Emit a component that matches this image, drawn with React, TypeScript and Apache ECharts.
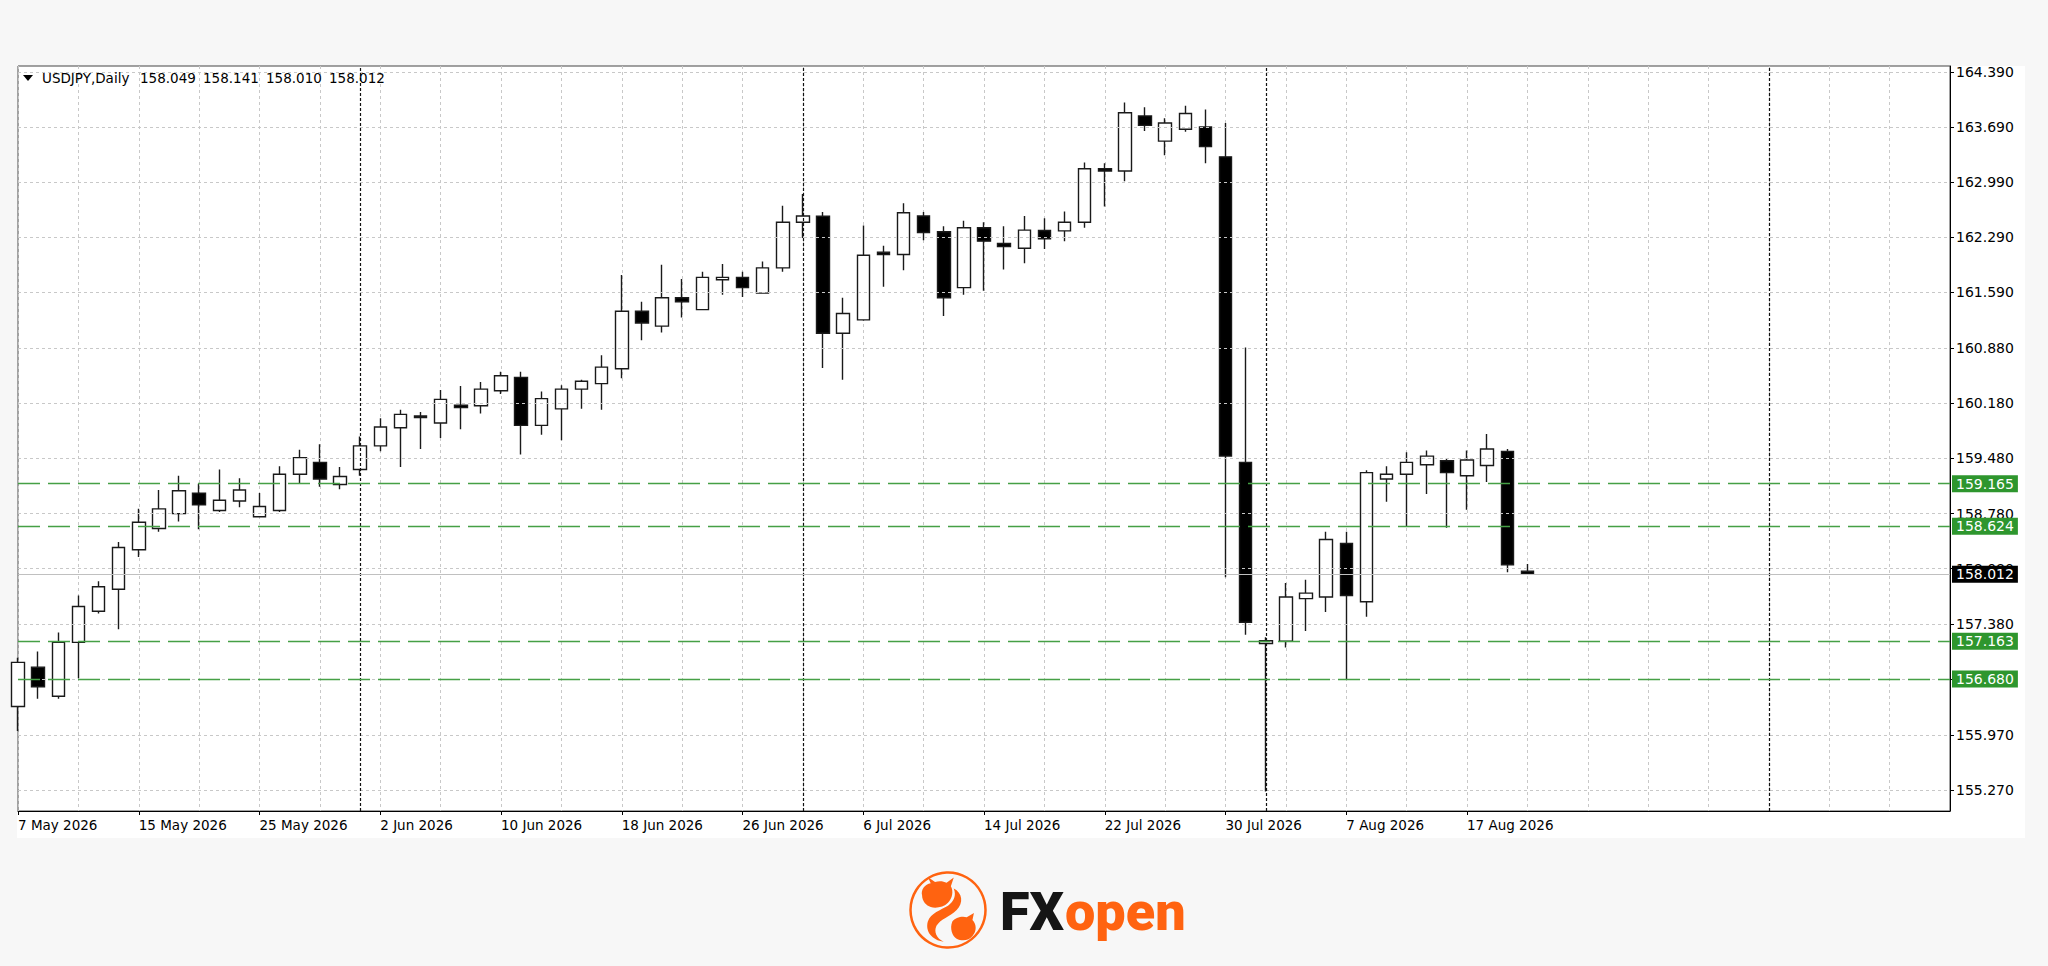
import React, { useEffect, useRef } from 'react';
import * as echarts from 'echarts';

const FONT = "'DejaVu Sans', Verdana, sans-serif";

// ---- data ----
const dates = [
  '7 May 2026', '8 May 2026', '11 May 2026', '12 May 2026', '13 May 2026', '14 May 2026', '15 May 2026',
  '18 May 2026', '19 May 2026', '20 May 2026', '21 May 2026', '22 May 2026', '25 May 2026', '26 May 2026',
  '27 May 2026', '28 May 2026', '29 May 2026',
  '1 Jun 2026', '2 Jun 2026', '3 Jun 2026', '4 Jun 2026', '5 Jun 2026', '8 Jun 2026', '9 Jun 2026',
  '10 Jun 2026', '11 Jun 2026', '12 Jun 2026', '15 Jun 2026', '16 Jun 2026', '17 Jun 2026', '18 Jun 2026',
  '19 Jun 2026', '22 Jun 2026', '23 Jun 2026', '24 Jun 2026', '25 Jun 2026', '26 Jun 2026', '29 Jun 2026',
  '30 Jun 2026',
  '1 Jul 2026', '2 Jul 2026', '3 Jul 2026', '6 Jul 2026', '7 Jul 2026', '8 Jul 2026', '9 Jul 2026',
  '10 Jul 2026', '13 Jul 2026', '14 Jul 2026', '15 Jul 2026', '16 Jul 2026', '17 Jul 2026', '20 Jul 2026',
  '21 Jul 2026', '22 Jul 2026', '23 Jul 2026', '24 Jul 2026', '27 Jul 2026', '28 Jul 2026', '29 Jul 2026',
  '30 Jul 2026', '31 Jul 2026',
  '3 Aug 2026', '4 Aug 2026', '5 Aug 2026', '6 Aug 2026', '7 Aug 2026', '10 Aug 2026', '11 Aug 2026',
  '12 Aug 2026', '13 Aug 2026', '14 Aug 2026', '17 Aug 2026', '18 Aug 2026', '19 Aug 2026', '20 Aug 2026',
];

const opens = [
  156.33, 156.83, 156.46, 157.145, 157.54, 157.82, 158.32, 158.59, 158.78, 159.04,
  158.82, 158.94, 158.74, 158.82, 159.28, 159.43, 159.15, 159.34, 159.64, 159.87,
  160.02, 159.93, 160.155, 160.15, 160.34, 160.51, 159.90, 160.11, 160.36, 160.43,
  160.62, 161.35, 161.16, 161.52, 161.37, 161.75, 161.78, 161.58, 161.90, 162.48,
  162.555, 161.07, 161.24, 162.10, 162.07, 162.56, 162.36, 161.65, 162.41, 162.21,
  162.15, 162.375, 162.37, 162.48, 163.16, 163.13, 163.83, 163.51, 163.66, 163.69,
  163.31, 159.43, 157.13, 157.16, 157.70, 157.72, 158.40, 157.66, 159.22, 159.28,
  159.40, 159.45, 159.26, 159.39, 159.57, 158.049,
];
const closes = [
  156.89, 156.58, 157.145, 157.60, 157.85, 158.35, 158.67, 158.84, 159.07, 158.89,
  158.95, 159.08, 158.87, 159.28, 159.49, 159.22, 159.25, 159.64, 159.88, 160.04,
  160.00, 160.23, 160.125, 160.36, 160.53, 159.90, 160.24, 160.36, 160.46, 160.64,
  161.35, 161.20, 161.52, 161.47, 161.78, 161.78, 161.65, 161.90, 162.48, 162.56,
  161.07, 161.32, 162.06, 162.07, 162.60, 162.35, 161.52, 162.41, 162.24, 162.17,
  162.38, 162.27, 162.48, 163.16, 163.13, 163.87, 163.71, 163.74, 163.86, 163.44,
  159.51, 157.40, 157.165, 157.72, 157.77, 158.45, 157.74, 159.30, 159.28, 159.43,
  159.51, 159.30, 159.46, 159.60, 158.13, 158.012,
];
const lows = [
  156.02, 156.43, 156.43, 156.69, 157.51, 157.31, 158.23, 158.55, 158.68, 158.58,
  158.80, 158.86, 158.73, 158.80, 159.16, 159.12, 159.09, 159.26, 159.57, 159.37,
  159.60, 159.74, 159.85, 160.05, 160.30, 159.53, 159.78, 159.71, 160.11, 160.10,
  160.50, 160.98, 161.08, 161.27, 161.37, 161.56, 161.53, 161.58, 161.85, 162.28,
  160.63, 160.48, 161.23, 161.66, 161.87, 162.25, 161.29, 161.56, 161.61, 161.88,
  161.96, 162.14, 162.24, 162.41, 162.68, 163.00, 163.64, 163.33, 163.63, 163.23,
  157.97, 157.24, 155.25, 157.08, 157.29, 157.53, 156.68, 157.47, 158.93, 158.62,
  159.03, 158.60, 158.83, 159.18, 158.035, 158.010,
];
const highs = [
  156.95, 157.03, 157.27, 157.74, 157.92, 158.42, 158.84, 159.08, 159.26, 159.16,
  159.34, 159.23, 159.04, 159.38, 159.59, 159.66, 159.37, 159.76, 159.99, 160.10,
  160.07, 160.35, 160.40, 160.45, 160.58, 160.58, 160.33, 160.41, 160.48, 160.79,
  161.81, 161.47, 161.94, 161.76, 161.85, 161.95, 161.85, 161.98, 162.69, 162.84,
  162.61, 161.52, 162.44, 162.18, 162.72, 162.61, 162.43, 162.50, 162.48, 162.43,
  162.56, 162.53, 162.615, 163.24, 163.23, 164.00, 163.94, 163.80, 163.96, 163.91,
  163.74, 160.89, 157.21, 157.90, 157.94, 158.55, 158.55, 159.33, 159.38, 159.56,
  159.58, 159.48, 159.58, 159.79, 159.60, 158.141,
];

const yTickLabels = [
  '164.390', '163.690', '162.990', '162.290', '161.590', '160.880', '160.180',
  '159.480', '158.780', '158.080', '157.380', '156.670', '155.970', '155.270',
];
const levelValues = [159.165, 158.624, 157.163, 156.68];
const currentPrice = 158.012;
const separatorIndex = [17, 39, 62, 87];
const futureSlots = 21;
const symbolTitle = 'USDJPY,Daily';

// ---- logo shape ----
const BULL_PATH =
  'M14 30 C12 22 18 14 26 13 L22 4 L32 11 C38 9 44 10 48 12 L58 5 L54 17 C58 24 56 34 50 40 C44 46 34 48 26 46 C20 44 14 38 14 30 Z ' +
  'M58 20 C70 26 72 40 62 50 C52 60 40 62 34 72 C30 80 34 90 44 94 C28 92 18 80 22 66 C26 54 40 50 50 44 C58 38 62 30 58 20 Z ' +
  'M56 66 C60 60 70 58 76 60 L86 54 L84 64 C90 70 90 80 84 86 C80 92 70 94 62 90 C56 86 52 76 56 66 Z';
echarts.graphic.registerShape('fxBulls', echarts.graphic.extendPath(BULL_PATH, {}));

export default function App() {
  const ref = useRef<HTMLDivElement>(null);

  useEffect(() => {
    if (!ref.current) return;
    const chart = echarts.init(ref.current, undefined, { renderer: 'svg' });

    const cats = [...dates];
    for (let k = 0; k < futureSlots; k++) cats.push('F' + (dates.length + k));
    const candles = opens.map((o, i) => [o, closes[i], lows[i], highs[i]]);
    const last = dates.length - 1;
    const ohlc = [opens[last], highs[last], lows[last], closes[last]].map((v) => v.toFixed(3));
    const showLabel = (i: number) => i % 6 === 0 && i < dates.length;

    const option: any = {
      animation: false,
      backgroundColor: '#f7f7f7',
      grid: {
        left: 18, top: 66, width: 1932, height: 745,
        show: true, borderColor: '#444', borderWidth: 1, backgroundColor: 'transparent',
      },
      xAxis: {
        type: 'category',
        data: cats,
        boundaryGap: false,
        axisLine: { show: true, lineStyle: { color: '#000', width: 1 } },
        axisTick: { show: true, interval: showLabel, length: 4, lineStyle: { color: '#000' } },
        axisLabel: {
          interval: showLabel, align: 'left', color: '#000', fontFamily: FONT, fontSize: 13.5, margin: 7,
          formatter: (v: string) => (v.charAt(0) === 'F' ? '' : v),
        },
        splitLine: { show: true, interval: (i: number) => i % 3 === 0, lineStyle: { color: '#c8c8c8', type: [3, 3], width: 1 } },
      },
      yAxis: {
        type: 'value',
        position: 'right',
        min: 155.003,
        max: 164.464,
        scale: true,
        axisLine: { show: true, lineStyle: { color: '#000', width: 1 } },
        axisTick: { show: true, customValues: yTickLabels.map(Number), length: 4, lineStyle: { color: '#000' } },
        axisLabel: { show: false },
        splitLine: { show: false },
      },
      series: [
        {
          type: 'line', z: 1, data: closes, symbol: 'none', silent: true,
          lineStyle: { opacity: 0 },
          markLine: {
            silent: true, symbol: ['none', 'none'], animation: false,
            lineStyle: { color: '#c8c8c8', type: [3, 3], width: 1 },
            label: { show: true, position: 'end', color: '#000', fontFamily: FONT, fontSize: 14, distance: 6 },
            data: yTickLabels.map((t) => ({ yAxis: Number(t), label: { formatter: t } })),
          },
        },
        {
          type: 'candlestick', z: 2, data: candles, barWidth: 13, clip: true,
          itemStyle: {
            color: '#ffffff', color0: '#000000', borderColor: '#1a1a1a', borderColor0: '#1a1a1a',
            borderColorDoji: '#1a1a1a', borderWidth: 1.4,
          },
        },
        {
          type: 'line', z: 3, data: closes, symbol: 'none', silent: true,
          lineStyle: { opacity: 0 },
          markLine: {
            silent: true, symbol: ['none', 'none'], animation: false,
            data: [
              ...separatorIndex.map((i) => ({
                xAxis: cats[i], label: { show: false },
                lineStyle: { color: '#111', type: [3, 2], width: 1.2 },
              })),
              { yAxis: currentPrice,
                lineStyle: { color: '#c0c0c0', type: 'solid', width: 1.2 },
                label: { show: true, position: 'end', formatter: currentPrice.toFixed(3), color: '#fff',
                  backgroundColor: '#000', padding: [2, 4, 1, 4], fontFamily: FONT, fontSize: 14, distance: 2 } },
              ...levelValues.map((v) => ({
                yAxis: v,
                lineStyle: { color: '#46a046', type: [22, 8], width: 1.4 },
                label: { show: true, position: 'end', formatter: v.toFixed(3), color: '#fff',
                  backgroundColor: '#2e962e', padding: [2, 4, 1, 4], fontFamily: FONT, fontSize: 14, distance: 2 },
              })),
            ],
          },
        },
      ],
      graphic: [
        { type: 'rect', z: -10, silent: true, shape: { x: 17, y: 66, width: 2008, height: 772 }, style: { fill: '#ffffff' } },
        { type: 'polygon', z: 10, shape: { points: [[23, 75], [33, 75], [28, 81]] }, style: { fill: '#000' } },
        { type: 'text', z: 10, x: 42, y: 78,
          style: { text: symbolTitle, fill: '#000', font: `13.5px ${FONT}`, verticalAlign: 'middle', textVerticalAlign: 'middle' } },
        ...ohlc.map((t, k) => ({
          type: 'text', z: 10, x: 140 + k * 63, y: 78,
          style: { text: t, fill: '#000', font: `13.5px ${FONT}`, verticalAlign: 'middle', textVerticalAlign: 'middle' },
        })),
        { type: 'circle', z: 10, shape: { cx: 948, cy: 910, r: 37.5 }, style: { fill: 'none', stroke: '#ff6310', lineWidth: 2.5 } },
        { type: 'fxBulls', z: 10, x: 912, y: 874, scaleX: 0.72, scaleY: 0.72, style: { fill: '#ff6310' } },
        { type: 'text', z: 10, x: 1000, y: 911,
          style: { text: 'FX', fill: '#151515', font: '900 54px Roboto', verticalAlign: 'middle', textVerticalAlign: 'middle' } },
        { type: 'text', z: 10, x: 1065, y: 911,
          style: { text: 'open', fill: '#ff6310', font: '900 54px Roboto', verticalAlign: 'middle', textVerticalAlign: 'middle' } },
      ],
    };

    chart.setOption(option);
    return () => chart.dispose();
  }, []);

  return (
    <div
      ref={ref}
      style={{ position: 'absolute', left: 0, top: 0, width: 2048, height: 966 }}
    />
  );
}
